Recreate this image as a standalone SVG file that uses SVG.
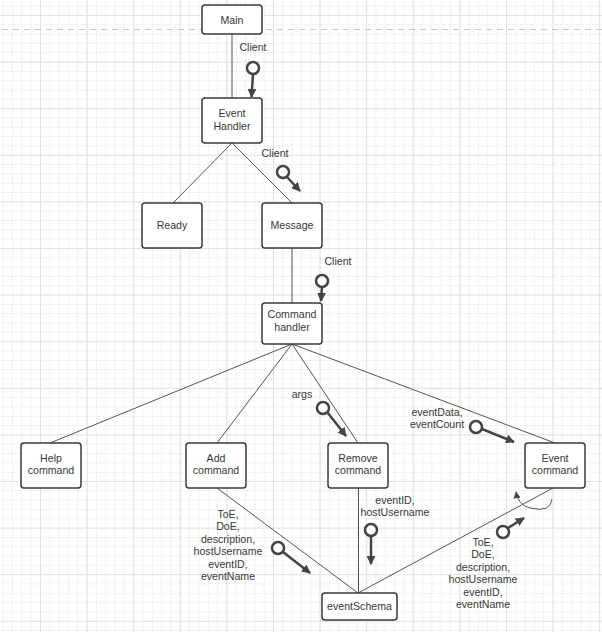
<svg xmlns="http://www.w3.org/2000/svg" width="602" height="632" viewBox="0 0 602 632">
<defs>
<pattern id="minor" width="9.32" height="9.32" patternUnits="userSpaceOnUse" patternTransform="translate(40,15)">
<path d="M0.5 0V9.32M0 0.5H9.32" stroke="#dddddd" stroke-width="1" stroke-dasharray="1 1.5" fill="none"/>
</pattern>
<pattern id="major" width="46.6" height="46.6" patternUnits="userSpaceOnUse" patternTransform="translate(40,15)">
<path d="M0.5 0V46.6M0 0.5H46.6" stroke="#e2e2e2" stroke-width="1" fill="none"/>
</pattern>
<marker id="ah" viewBox="0 0 10 10" refX="9" refY="5" markerWidth="9" markerHeight="9" markerUnits="userSpaceOnUse" orient="auto">
<path d="M0 0L10 5L0 10Z" fill="#444"/>
</marker>
<marker id="ahs" viewBox="0 0 10 10" refX="9" refY="5" markerWidth="7" markerHeight="7" markerUnits="userSpaceOnUse" orient="auto">
<path d="M0 0L10 5L0 10Z" fill="#444"/>
</marker>
</defs>
<style>
.box{fill:#fff;stroke:#3a3a3a;stroke-width:1.5}
text{font-family:"Liberation Sans",Arial,sans-serif;font-size:10.6px;fill:#383838;text-anchor:middle}
.conn line,.conn path{stroke:#555;stroke-width:1;fill:none}
.lolli circle{fill:#fff;stroke:#444;stroke-width:2.5}
.lolli line{stroke:#444;stroke-width:2.5;marker-end:url(#ah)}
</style>
<rect width="602" height="632" fill="#fff"/>
<rect width="602" height="632" fill="url(#minor)"/>
<rect width="602" height="632" fill="url(#major)"/>
<line x1="2" y1="29.5" x2="602" y2="29.5" stroke="#c8c8c8" stroke-width="1.2" stroke-dasharray="6 5"/>

<g id="connectors" class="conn">
<line x1="232" y1="34" x2="232" y2="98"/>
<line x1="232" y1="143" x2="173" y2="203"/>
<line x1="232" y1="143" x2="292" y2="203"/>
<line x1="292" y1="248" x2="292" y2="303"/>
<line x1="292" y1="344" x2="50" y2="443"/>
<line x1="292" y1="344" x2="217" y2="443"/>
<line x1="292" y1="344" x2="358" y2="443"/>
<line x1="292" y1="344" x2="555" y2="443"/>
<line x1="217" y1="488" x2="358" y2="593"/>
<line x1="358.5" y1="488" x2="358.5" y2="593"/>
<line x1="553" y1="488" x2="358" y2="593"/>
<path d="M552 499Q551 513 530 508Q518 505 516 492" stroke="#444" stroke-width="1.3" marker-end="url(#ahs)"/>
</g>

<g id="labels">
<g class="lolli" id="flow-main-eh">
<text x="253" y="51">Client</text>
<line x1="253" y1="74" x2="251.5" y2="97"/>
<circle cx="253" cy="68" r="6"/>
</g>
<g class="lolli" id="flow-eh-msg">
<text x="275" y="157">Client</text>
<line x1="287" y1="177" x2="300" y2="191"/>
<circle cx="283" cy="172" r="6"/>
</g>
<g class="lolli" id="flow-msg-cmd">
<text x="338" y="265">Client</text>
<line x1="322" y1="287" x2="321" y2="301"/>
<circle cx="322" cy="281" r="6"/>
</g>
<g class="lolli" id="flow-args">
<text x="302" y="398">args</text>
<line x1="327.5" y1="412.5" x2="346" y2="436"/>
<circle cx="323" cy="408" r="6"/>
</g>
<g class="lolli" id="flow-eventdata">
<text x="437" y="416">eventData,</text>
<text x="437" y="428">eventCount</text>
<line x1="482" y1="429" x2="514" y2="442"/>
<circle cx="476" cy="427" r="6"/>
</g>
<g class="lolli" id="flow-add-schema">
<text x="228" y="518">ToE,</text>
<text x="228" y="530">DoE,</text>
<text x="228" y="543">description,</text>
<text x="228" y="555">hostUsername</text>
<text x="228" y="568">eventID,</text>
<text x="228" y="580">eventName</text>
<line x1="283" y1="552" x2="310" y2="573"/>
<circle cx="278" cy="548" r="6"/>
</g>
<g class="lolli" id="flow-remove-schema">
<text x="395" y="504">eventID,</text>
<text x="395" y="516">hostUsername</text>
<line x1="371" y1="536" x2="371" y2="564"/>
<circle cx="371" cy="530" r="6"/>
</g>
<g class="lolli" id="flow-schema-event">
<text x="483" y="546">ToE,</text>
<text x="483" y="558">DoE,</text>
<text x="483" y="571">description,</text>
<text x="483" y="583">hostUsername</text>
<text x="483" y="596">eventID,</text>
<text x="483" y="608">eventName</text>
<line x1="508" y1="528" x2="524" y2="518"/>
<circle cx="503" cy="532" r="6"/>
</g>
</g>

<g id="node-main"><rect class="box" x="202" y="5" width="60" height="29" rx="3"/><text x="232" y="23.5">Main</text></g>
<g id="node-event-handler"><rect class="box" x="202" y="98" width="60" height="45" rx="3"/><text x="232" y="117">Event</text><text x="232" y="130">Handler</text></g>
<g id="node-ready"><rect class="box" x="142" y="203" width="60" height="45" rx="3"/><text x="172" y="229">Ready</text></g>
<g id="node-message"><rect class="box" x="262" y="203" width="60" height="45" rx="3"/><text x="292" y="229">Message</text></g>
<g id="node-command-handler"><rect class="box" x="262" y="303" width="60" height="41" rx="3"/><text x="292" y="318">Command</text><text x="292" y="331">handler</text></g>
<g id="node-help"><rect class="box" x="21" y="443" width="60" height="45" rx="3"/><text x="51" y="462">Help</text><text x="51" y="474">command</text></g>
<g id="node-add"><rect class="box" x="186" y="443" width="60" height="45" rx="3"/><text x="216" y="462">Add</text><text x="216" y="474">command</text></g>
<g id="node-remove"><rect class="box" x="328" y="443" width="60" height="45" rx="3"/><text x="358" y="462">Remove</text><text x="358" y="474">command</text></g>
<g id="node-event"><rect class="box" x="525" y="443" width="60" height="45" rx="3"/><text x="555" y="462">Event</text><text x="555" y="474">command</text></g>
<g id="node-eventschema"><rect class="box" x="322" y="593" width="75" height="27" rx="3"/><text x="359.5" y="610">eventSchema</text></g>
</svg>
